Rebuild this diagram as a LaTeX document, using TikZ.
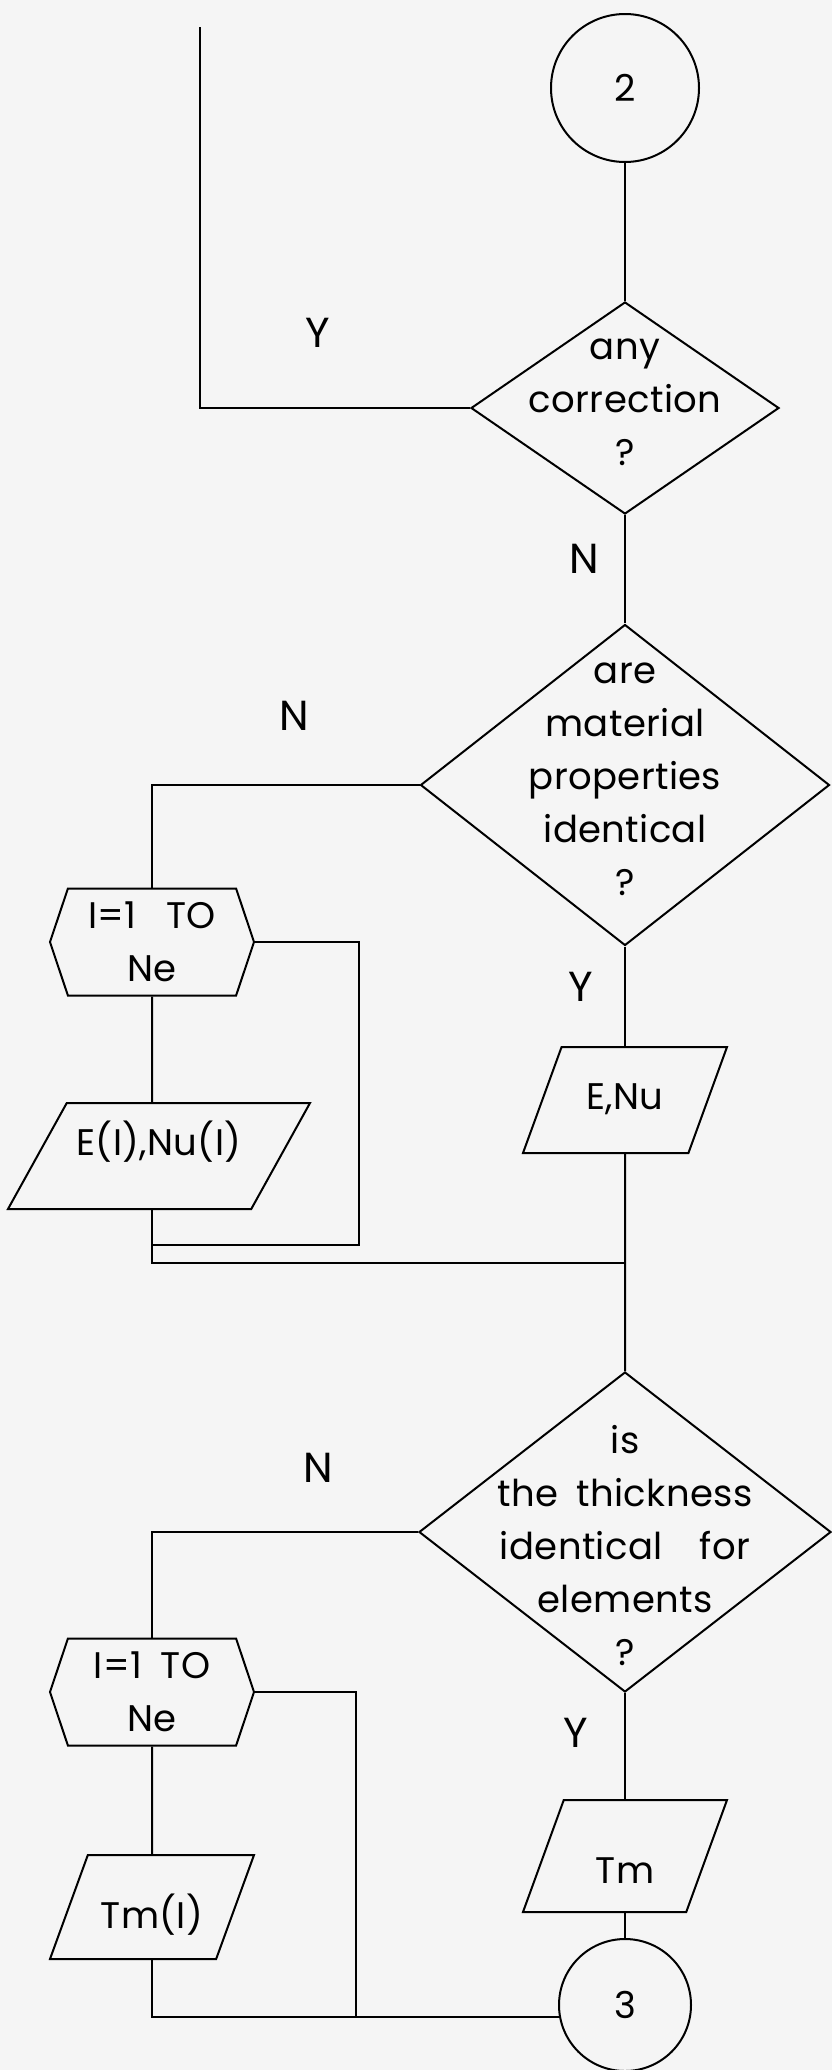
\documentclass[tikz,border=0pt]{standalone}
\usepackage{fontspec}
\setmainfont[LetterSpace=1, WordSpace=1.8]{Poppins}
\usetikzlibrary{shapes.geometric, shapes.symbols, positioning}

\newcommand{\flowlines}[2][0pt]{\smash{\makebox[0pt]{\raisebox{#1}{\begin{tabular}{@{}c@{}}#2\end{tabular}}}}}

\begin{document}
\begin{tikzpicture}[x=1pt, y=-1pt, line width=2pt,
		every node/.style={font=\fontsize{37}{53}\selectfont},
		connector/.style={draw, circle, inner sep=0pt},
		decision/.style={draw, diamond, inner sep=0pt},
		inout/.style={draw, trapezium, trapezium left angle=70, trapezium right angle=110, trapezium stretches body, text height=26pt, text depth=8pt, inner xsep=0pt, inner ysep=36pt, minimum width=204pt},
		loopbox/.style={draw, signal, signal to=west and east, signal pointer angle=143, minimum width=204pt, minimum height=107pt, inner sep=0pt, align=center},
		answer/.style={font=\fontsize{42}{50}\selectfont}]
		\fill[black!4] (0,0) rectangle (832,2070);
		\useasboundingbox (0,0) rectangle (832,2070);
		
		\node (c2) [connector, minimum size=148pt] at (625,88) {2};
		\node (d1) [below of=c2, decision, minimum width=308pt, minimum height=212pt, node distance=320pt] {\flowlines{any\\correction\\?}};
		\node (d2) [below of=d1, decision, minimum width=409pt, minimum height=321pt, node distance=377pt] {\flowlines{are\\material\\properties\\identical\\?}};
		\node (eNu) [below of=d2, inout, node distance=315pt] {E,Nu};
		\node (d3) [below of=eNu, decision, minimum width=412pt, minimum height=320pt, node distance=432pt] {\flowlines[-23pt]{is\\the thickness\\identical~~for\\elements\\?}};
		\node (tm) [below of=d3, inout, text height=62pt, inner ysep=21pt, node distance=324pt] {Tm};
		\node (c3) [below of=tm, connector, minimum size=132pt, node distance=149pt] {3};
		
		\node (h1) [loopbox] at (152,942) {I=1\hspace{30pt}TO\\Ne};
		\node (eI) [inout, trapezium left angle=61, trapezium right angle=119, text depth=27pt, inner ysep=26.5pt, minimum width=302pt] at (159,1156) {E(I),Nu(I)};
		\node (h2) [loopbox] at (152,1692) {I=1~TO\\Ne};
		\node (tmI) [inout, text height=50pt, inner ysep=23pt] at (152,1907) {Tm(I)};
		
		\coordinate (ytop) at (200,27);
		\coordinate (loop1) at (359,1245);
		\coordinate (join1) at (625,1263);
		\coordinate (loop2) at (356,2017);
		
		\draw (c2) -- (d1);
		\draw (d1.west) -| (ytop);
		\draw (d1) -- (d2);
		\draw (d2.west) -| (h1.north);
		\draw (d2) -- (eNu);
		\draw (eNu) -- (d3);
		\draw (h1) -- (h1 |- eI.north);
		\draw (h1 |- eI.south) |- (join1);
		\draw (h1.east) -| (loop1) -- (loop1 -| h1);
		\draw (d3.west) -| (h2.north);
		\draw (d3) -- (tm);
		\draw (tm) -- (c3);
		\draw (h2) -- (h2 |- tmI.north);
		\draw (h2 |- tmI.south) |- (c3.190);
		\draw (h2.east) -| (loop2);
		
		\node (yes1) [answer] at (318,333) {Y};
		\node (no1) [answer] at (584,559) {N};
		\node (no2) [answer] at (294,716) {N};
		\node (yes2) [answer] at (581,987) {Y};
		\node (no3) [answer] at (318,1468) {N};
		\node (yes3) [answer] at (576,1733) {Y};
	\end{tikzpicture}
\end{document}
